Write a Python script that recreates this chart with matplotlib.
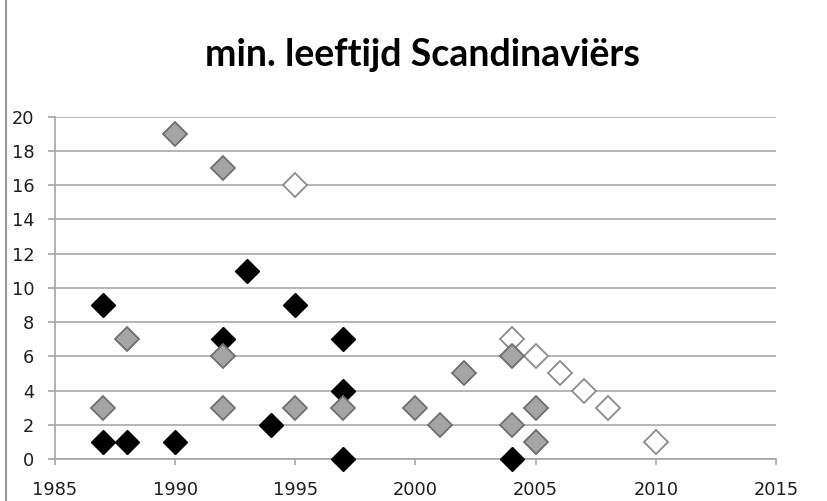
import matplotlib
matplotlib.use("Agg")
import matplotlib.pyplot as plt
from matplotlib.patches import Rectangle

title = "min. leeftijd Scandinaviërs"

black_x = [1987, 1987, 1988, 1990, 1992, 1993, 1994, 1995, 1997, 1997, 1997, 2004]
black_y = [9, 1, 1, 1, 7, 11, 2, 9, 7, 4, 0, 0]

gray_x = [1987, 1988, 1990, 1992, 1992, 1992, 1995, 1997, 2000, 2001, 2002, 2004, 2004, 2005, 2005]
gray_y = [3, 7, 19, 17, 6, 3, 3, 3, 3, 2, 5, 6, 2, 3, 1]

white_x = [1995, 2004, 2005, 2006, 2007, 2008, 2010]
white_y = [16, 7, 6, 5, 4, 3, 1]

x_ticks = [1985, 1990, 1995, 2000, 2005, 2010, 2015]
y_ticks = [0, 2, 4, 6, 8, 10, 12, 14, 16, 18, 20]

plt.rcParams['font.family'] = ['DejaVu Sans']

fig = plt.figure(figsize=(8.27, 5.01), dpi=100)
ax = fig.add_axes([55/827, 1-459/501, (776-55)/827, (459-116.7)/501])

# outer chart border
fig.patches.append(Rectangle((6/827, -0.05), 1.2, 1.2, transform=fig.transFigure,
                             fill=False, edgecolor='#808080', linewidth=1.2))

ax.set_xlim(1985, 2015)
ax.set_ylim(0, 20)
ax.set_xticks(x_ticks)
ax.set_yticks(y_ticks)
ax.set_xticklabels([str(v) for v in x_ticks])
ax.set_yticklabels([str(v) for v in y_ticks])

for s in ['top', 'right']:
    ax.spines[s].set_visible(False)
ax.spines['left'].set_color('#a6a6a6')
ax.spines['bottom'].set_color('#a6a6a6')
ax.spines['left'].set_linewidth(1.2)
ax.spines['bottom'].set_linewidth(1.2)
ax.yaxis.grid(True, color='#b4b4b4', linewidth=1.4)
ax.set_axisbelow(True)
ax.tick_params(axis='both', colors='#a6a6a6', width=1.2, labelcolor='#1e1e1e', labelsize=12.8)
ax.tick_params(axis='y', length=5, pad=10)
ax.tick_params(axis='x', length=4, pad=12)

ms = 12.5
ax.plot(black_x, black_y, linestyle='none', marker='D', markersize=ms,
        markerfacecolor='black', markeredgecolor='black', clip_on=False, zorder=3)
ax.plot(white_x, white_y, linestyle='none', marker='D', markersize=ms - 0.5,
        markerfacecolor='white', markeredgecolor='#8c8c8c', markeredgewidth=1.3, clip_on=False, zorder=4)
ax.plot(gray_x, gray_y, linestyle='none', marker='D', markersize=ms - 0.5,
        markerfacecolor='#a5a5a5', markeredgecolor='#6e6e6e', markeredgewidth=1.3, clip_on=False, zorder=5)

fig.text(423/827, 1-55/501, title, ha='center', va='center', fontsize=27,
         fontweight='bold', color='black', family=['Lato', 'DejaVu Sans'])

fig.savefig('out.png', dpi=100)
